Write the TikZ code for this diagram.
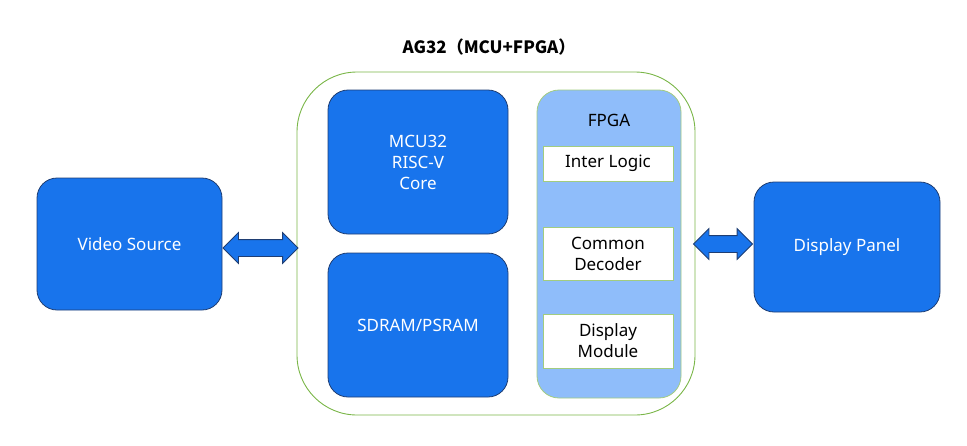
\documentclass[tikz,border=0pt]{standalone}
\usepackage{fontspec}
\setmainfont{Noto Sans}
\newfontfamily\cjk{Noto Sans CJK SC}
\usetikzlibrary{shapes.arrows}
\definecolor{bbl}{HTML}{1874EC}
\definecolor{bdk}{HTML}{1F3E73}
\definecolor{lbl}{HTML}{8FBDFA}
\definecolor{grn}{HTML}{7AB648}
\begin{document}
\begin{tikzpicture}[x=1pt,y=-1pt,
 blk/.style={draw=bdk,line width=0.8pt,fill=bbl,rounded corners=20,text=white,align=center,font=\fontsize{17}{21}\selectfont},
 wb/.style={draw=grn!70,fill=white,line width=0.8pt,align=center,font=\fontsize{17}{21}\selectfont,inner sep=0pt},
 darr/.style={double arrow,draw=bdk,fill=bbl,line width=0.8pt,inner xsep=0pt,inner ysep=8pt,double arrow head extend=7pt,text width=0pt}]
\useasboundingbox (0,0) rectangle (967,445);
\node[font=\cjk\bfseries\fontsize{17}{20}\selectfont] (title) at (489,47) {AG32（MCU+FPGA）};
\draw[grn,line width=0.9pt,rounded corners=60] (297,72) rectangle (695,415);
\path (297,72) coordinate (outerNW) (695,415) coordinate (outerSE);
\node[blk,minimum width=185,minimum height=132] (vs) at (129.5,244) {Video Source};
\node[blk,minimum width=186,minimum height=130] (dp) at (847,247) {Display Panel};
\node[blk,minimum width=180,minimum height=144] (mcu) at (418,162) {MCU32\\RISC-V\\Core};
\node[blk,minimum width=180,minimum height=144] (sd) at (418,325) {SDRAM/PSRAM};
\node[draw=grn!70,fill=lbl,line width=0.8pt,rounded corners=22,minimum width=144,minimum height=308] (fpga) at (609,244) {};
\node[font=\fontsize{17}{21}\selectfont] (fl) at (609,120) {FPGA};
\node[wb,minimum width=130,minimum height=35] (il) at (608,163.5) {Inter Logic};
\node[wb,minimum width=130,minimum height=53] (cd) at (608,253.5) {Common\\Decoder};
\node[wb,minimum width=130,minimum height=54] (dm) at (608,341) {Display\\Module};
\node[darr,minimum height=75] (a1) at (260.5,248) {};
\node[darr,minimum height=59] (a2) at (723,244) {};
\end{tikzpicture}
\end{document}
